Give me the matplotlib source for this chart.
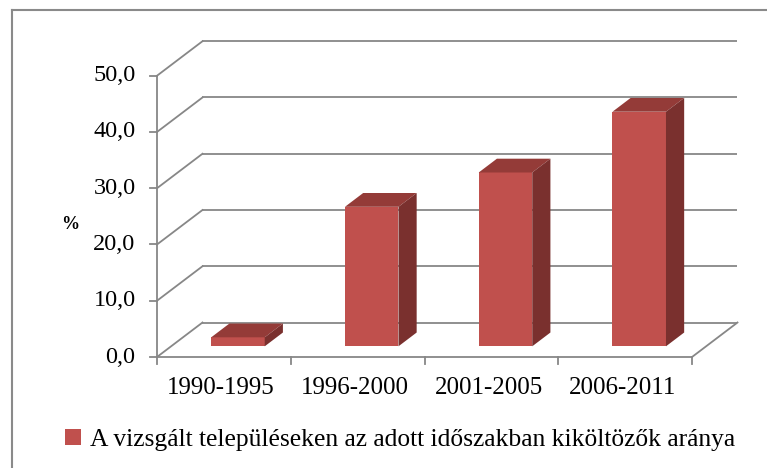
import matplotlib
matplotlib.use('Agg')
import matplotlib.pyplot as plt
from matplotlib.patches import Polygon, Patch

plt.rcParams['font.family'] = ['Liberation Serif', 'DejaVu Serif']

# data
categories = ['1990-1995', '1996-2000', '2001-2005', '2006-2011']
values = [1.6, 24.8, 30.9, 41.7]
yticks = [0, 10, 20, 30, 40, 50]
ytick_labels = ['0,0', '10,0', '20,0', '30,0', '40,0', '50,0']
series_name = 'A vizsgált településeken az adott időszakban kiköltözők aránya'

# 3d look: oblique offset of the back wall, in data units
DX = 0.34
DY = 6.13
d0, d1 = 0.31, 0.71   # depth of bar front / back face
bw = 0.4

grid_col = '#878787'
front_col = '#C0504D'
top_col = '#943B38'
side_col = '#7A302E'

fig = plt.figure(figsize=(7.67, 4.68), dpi=100)
ax = fig.add_axes([0, 0, 1, 1])
ax.set_xlim(-1.1738, 4.5607)
ax.set_ylim(-19.73, 63.46)
ax.axis('off')

n = len(categories)

# back wall gridlines + left wall diagonals
for v in yticks:
    ax.plot([DX, n + DX], [v + DY, v + DY], color=grid_col, lw=1.3, solid_capstyle='butt')
    ax.plot([0, DX], [v, v + DY], color=grid_col, lw=1.3)
    ax.plot([-0.055, 0], [v, v], color=grid_col, lw=1.3)
    ax.text(-0.16, v, ytick_labels[yticks.index(v)], ha='right', va='center', fontsize=17.5)

# floor
ax.plot([0, n], [0, 0], color=grid_col, lw=1.3)
ax.plot([n, n + DX], [0, DY], color=grid_col, lw=1.3)
ax.plot([0, 0], [0, yticks[-1]], color=grid_col, lw=1.3)
for i in range(n + 1):
    ax.plot([i, i], [0, -1.3], color=grid_col, lw=1.3)

# bars
for i, v in enumerate(values):
    x0 = i + 0.5 - bw / 2 + d0 * DX
    y0 = d0 * DY
    ox = (d1 - d0) * DX
    oy = (d1 - d0) * DY
    front = Polygon([(x0, y0), (x0 + bw, y0), (x0 + bw, y0 + v), (x0, y0 + v)],
                    closed=True, fc=front_col, ec='none', zorder=3)
    top = Polygon([(x0, y0 + v), (x0 + bw, y0 + v), (x0 + bw + ox, y0 + v + oy), (x0 + ox, y0 + v + oy)],
                  closed=True, fc=top_col, ec='none', zorder=3)
    side = Polygon([(x0 + bw, y0), (x0 + bw + ox, y0 + oy), (x0 + bw + ox, y0 + v + oy), (x0 + bw, y0 + v)],
                   closed=True, fc=side_col, ec='none', zorder=3)
    ax.add_patch(front)
    ax.add_patch(top)
    ax.add_patch(side)
    ax.text(i + 0.48, -5.5, categories[i], ha='center', va='center', fontsize=18)

# axis title
ax.text(-0.65, 23.6, '%', ha='center', va='center', fontsize=13, fontweight='bold')

# outer frame
ax.plot([-1.0838, -1.0838], [-19.73, 61.66], color='#8a8a8a', lw=1.5)
ax.plot([-1.0838, 4.5607], [61.66, 61.66], color='#8a8a8a', lw=1.5)

leg = ax.legend(handles=[Patch(fc=front_col, ec='none')], labels=[series_name],
                loc='center', bbox_to_anchor=(0.5215, 0.06), bbox_transform=fig.transFigure,
                frameon=False, fontsize=18.4, handlelength=0.6, handleheight=0.6,
                handletextpad=0.35, borderpad=0)

fig.savefig('out.png', dpi=100)
